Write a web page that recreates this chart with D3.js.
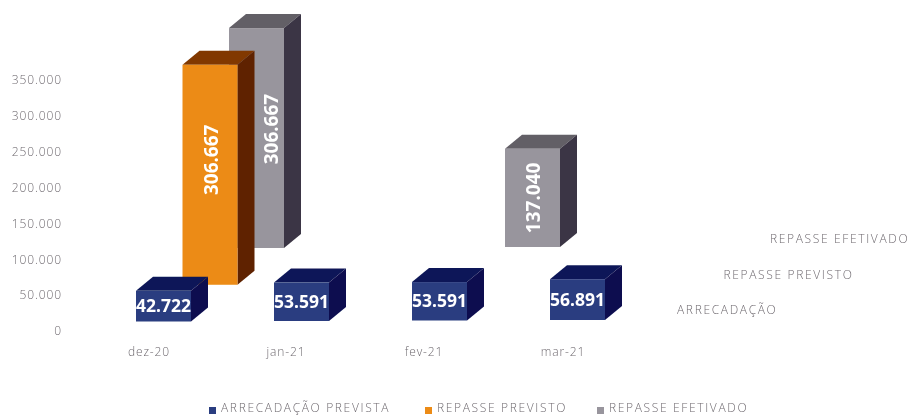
<!DOCTYPE html>
<html><head><meta charset="utf-8">
<script src="https://cdnjs.cloudflare.com/ajax/libs/d3/7.8.5/d3.min.js"></script>
<style>
html,body{margin:0;padding:0;background:#fff;overflow:hidden}
svg{display:block}
.t{font-family:"Open Sans";font-weight:300;font-size:12px;fill:#6f6a70;letter-spacing:.9px}
.w{letter-spacing:1.65px}
.v{font-family:"Noto Sans";font-weight:700;font-size:17.5px;fill:#fff}
.r{font-size:19px}
</style></head><body>
<svg id="c" width="909" height="416"></svg>
<script>
const categories=["dez-20","jan-21","fev-21","mar-21"];
const seriesNames=["ARRECADAÇÃO","REPASSE PREVISTO","REPASSE EFETIVADO"];
const legendNames=["ARRECADAÇÃO PREVISTA","REPASSE PREVISTO","REPASSE EFETIVADO"];
const arrecadacao=[42722,53591,53591,56891];
const repassePrevisto=[306667,null,null,null];
const repasseEfetivado=[306667,null,137040,null];
const yTicks=[0,50000,100000,150000,200000,250000,300000,350000];
const seriesValues=[arrecadacao,repassePrevisto,repasseEfetivado];
const palette=[
 {front:"#2c3e80",top:"#0e1958",side:"#0a1050"},
 {front:"#ec8b12",top:"#813806",side:"#5f2300"},
 {front:"#98959d",top:"#625e66",side:"#3b3644"}];

const W=909,H=416,barW=55,depthX=17,depthY=14;
const svg=d3.select("#c");
const defs=svg.append("defs");
defs.append("filter").attr("id","b").attr("x","-5%").attr("y","-5%").attr("width","110%").attr("height","110%")
  .append("feGaussianBlur").attr("stdDeviation",0.65);
const root=svg.append("g").attr("filter","url(#b)");

const y=d3.scaleLinear().domain([0,350000]).range([331,80]);
const xCat=d3.scalePoint().domain(categories).range([136,550]);
const rowX=d3.scalePoint().domain(d3.range(3)).range([0,93]);
const rowY=d3.scalePoint().domain(d3.range(3)).range([321.5,248]);
const tilt=d3.scaleLinear().domain([0,3]).range([0,-1.5]);
const fmt=v=>d3.format(",")(v).replace(/,/g,".");

const axis=d3.axisLeft(y).tickValues(yTicks).tickSize(0).tickPadding(0).tickFormat(fmt);
const ag=root.append("g").attr("transform","translate(62,0)").call(axis);
ag.select(".domain").remove();
ag.selectAll("text").attr("class","t").attr("font-family",null).attr("font-size",null);

const xLabelShift=[13,12,12,13];
root.append("g").selectAll("text").data(categories).join("text").attr("class","t")
  .attr("text-anchor","middle")
  .attr("x",(d,i)=>xCat(d)+xLabelShift[i]).attr("y",356).text(d=>d);

const rowLabelX=d3.scalePoint().domain(d3.range(3)).range([677,770]);
const rowLabelY=d3.scalePoint().domain(d3.range(3)).range([314,243]);
root.append("g").selectAll("text").data(seriesNames).join("text").attr("class","t w")
  .attr("x",(d,i)=>rowLabelX(i)).attr("y",(d,i)=>rowLabelY(i)).text(d=>d);

const pts=[];
seriesValues.forEach((vals,s)=>vals.forEach((v,c)=>{if(v!=null)pts.push({s,c,v});}));
pts.sort((a,b)=>b.s-a.s||a.c-b.c);
const bars=root.append("g");
const nudge=p=>p.c!==0||p.s===0?[0,0]:(p.s===1?[1,-15]:[14,-9]);
pts.forEach(p=>{
  const x0=xCat(categories[p.c])+rowX(p.s);
  const yb=rowY(p.s)+tilt(p.c);
  const h=y(0)-y(p.v), yt=yb-h, col=palette[p.s];
  const g=bars.append("g");
  g.append("polygon").attr("fill",col.top).attr("points",[[x0,yt],[x0+depthX,yt-depthY],[x0+barW+depthX,yt-depthY],[x0+barW,yt]].join(" "));
  g.append("polygon").attr("fill",col.side).attr("points",[[x0+barW,yt],[x0+barW+depthX,yt-depthY],[x0+barW+depthX,yb-depthY],[x0+barW,yb]].join(" "));
  g.append("rect").attr("x",x0).attr("y",yt).attr("width",barW).attr("height",h).attr("fill",col.front);
  const [nx,ny]=nudge(p);
  const cx=x0+barW/2+nx, cy=(yt+yb)/2+ny;
  const t=g.append("text").attr("class",p.s===0?"v":"v r").attr("text-anchor","middle").attr("dominant-baseline","central").text(fmt(p.v));
  if(p.s===0) t.attr("x",cx).attr("y",cy-1);
  else t.attr("transform",`translate(${cx},${cy}) rotate(-90)`);
});

const legX=[209,425,597], legY=408;
const lg=root.append("g").selectAll("g").data(legendNames).join("g");
lg.append("rect").attr("x",(d,i)=>legX[i]).attr("y",legY-1).attr("width",7).attr("height",7).attr("fill",(d,i)=>palette[i].front);
lg.append("text").attr("class","t w").attr("x",(d,i)=>legX[i]+12).attr("y",legY+4).text(d=>d);
</script></body></html>
